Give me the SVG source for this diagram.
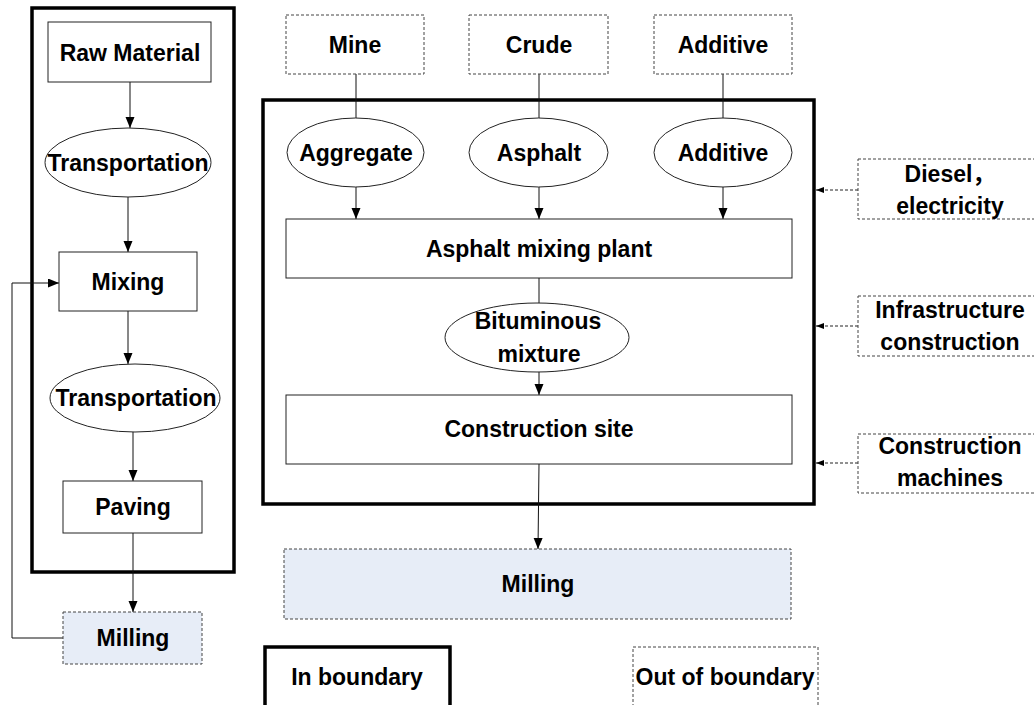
<svg xmlns="http://www.w3.org/2000/svg" width="1034" height="705" viewBox="0 0 1034 705">
<defs>
<style>
text{font-family:"Liberation Sans","Noto Sans CJK SC",Arial,sans-serif;font-weight:bold;font-size:23px;fill:#000;text-anchor:middle}
.box{fill:#fff;stroke:#222;stroke-width:1}
.ell{fill:#fff;stroke:#222;stroke-width:1}
.out{fill:#fff;stroke:#444;stroke-width:1;stroke-dasharray:3 2}
.mill{fill:#e7edf7;stroke:#444;stroke-width:1;stroke-dasharray:3 2}
.bound{fill:none;stroke:#000;stroke-width:3.5}
.ln{fill:none;stroke:#111;stroke-width:1}
.dln{fill:none;stroke:#222;stroke-width:1;stroke-dasharray:3 2}
</style>
<marker id="ah" markerUnits="userSpaceOnUse" markerWidth="12" markerHeight="10" refX="11" refY="4.5" orient="auto">
<path d="M0,0 L11,4.5 L0,9 z" fill="#000"/>
</marker>
<marker id="ahs" markerUnits="userSpaceOnUse" markerWidth="9" markerHeight="7" refX="8" refY="3" orient="auto">
<path d="M0,0 L8,3 L0,6 z" fill="#000"/>
</marker>
</defs>

<g id="boundaries">
<rect id="left-boundary" class="bound" x="32" y="8" width="202" height="564"/>
<rect id="main-boundary" class="bound" x="263" y="100" width="551" height="404"/>
</g>

<g id="connectors">
<line class="ln" x1="130" y1="82" x2="130" y2="128" marker-end="url(#ah)"/>
<line class="ln" x1="128" y1="197" x2="128" y2="252" marker-end="url(#ah)"/>
<line class="ln" x1="128" y1="311" x2="128" y2="364" marker-end="url(#ah)"/>
<line class="ln" x1="133" y1="432" x2="133" y2="481" marker-end="url(#ah)"/>
<line class="ln" x1="133" y1="533" x2="133" y2="612" marker-end="url(#ah)"/>
<polyline class="ln" points="63,638 12,638 12,283 59,283" marker-end="url(#ah)"/>
<line class="ln" x1="356" y1="74" x2="356" y2="118"/>
<line class="ln" x1="539" y1="74" x2="539" y2="118"/>
<line class="ln" x1="723" y1="74" x2="723" y2="118"/>
<line class="ln" x1="356" y1="187" x2="356" y2="219" marker-end="url(#ah)"/>
<line class="ln" x1="539" y1="187" x2="539" y2="219" marker-end="url(#ah)"/>
<line class="ln" x1="723" y1="187" x2="723" y2="219" marker-end="url(#ah)"/>
<line class="ln" x1="539" y1="278" x2="539" y2="303"/>
<line class="ln" x1="539" y1="372" x2="539" y2="395" marker-end="url(#ah)"/>
<line class="ln" x1="539" y1="464" x2="538" y2="549" marker-end="url(#ah)"/>
<line class="dln" x1="858" y1="190" x2="816" y2="190" marker-end="url(#ahs)"/>
<line class="dln" x1="858" y1="326" x2="816" y2="326" marker-end="url(#ahs)"/>
<line class="dln" x1="858" y1="463" x2="816" y2="463" marker-end="url(#ahs)"/>
</g>

<g id="raw-material"><rect class="box" x="48" y="22" width="163" height="60"/><text x="130" y="61">Raw Material</text></g>
<g id="transportation-1"><ellipse class="ell" cx="128" cy="162.5" rx="83" ry="34.5"/><text x="128" y="171">Transportation</text></g>
<g id="mixing"><rect class="box" x="59" y="252" width="138" height="59"/><text x="128" y="290">Mixing</text></g>
<g id="transportation-2"><ellipse class="ell" cx="135" cy="398" rx="85" ry="34"/><text x="136" y="406">Transportation</text></g>
<g id="paving"><rect class="box" x="63" y="481" width="139" height="52"/><text x="133" y="515">Paving</text></g>
<g id="milling-left"><rect class="mill" x="63" y="612" width="139" height="52"/><text x="133" y="646">Milling</text></g>

<g id="mine"><rect class="out" x="286" y="15" width="138" height="59"/><text x="355" y="53">Mine</text></g>
<g id="crude"><rect class="out" x="469" y="15" width="139" height="59"/><text x="539" y="53">Crude</text></g>
<g id="additive-source"><rect class="out" x="654" y="15" width="138" height="59"/><text x="723" y="53">Additive</text></g>

<g id="aggregate"><ellipse class="ell" cx="355.5" cy="152.5" rx="68.5" ry="34.5"/><text x="356" y="161">Aggregate</text></g>
<g id="asphalt"><ellipse class="ell" cx="538.5" cy="152.5" rx="69.5" ry="34.5"/><text x="539" y="161">Asphalt</text></g>
<g id="additive"><ellipse class="ell" cx="723" cy="152.5" rx="69" ry="34.5"/><text x="723" y="161">Additive</text></g>

<g id="asphalt-mixing-plant"><rect class="box" x="286" y="219" width="506" height="59"/><text x="539" y="257">Asphalt mixing plant</text></g>
<g id="bituminous-mixture"><ellipse class="ell" cx="537" cy="337.5" rx="92" ry="34.5"/><text x="538" y="329">Bituminous</text><text x="539" y="362">mixture</text></g>
<g id="construction-site"><rect class="box" x="286" y="395" width="506" height="69"/><text x="539" y="437">Construction site</text></g>
<g id="milling-main"><rect class="mill" x="284" y="549" width="507" height="70"/><text x="538" y="592">Milling</text></g>

<g id="diesel-electricity"><rect class="out" x="858" y="159" width="186" height="60"/><text x="950" y="182">Diesel，</text><text x="950" y="214">electricity</text></g>
<g id="infrastructure-construction"><rect class="out" x="858" y="296" width="186" height="60"/><text x="950" y="318">Infrastructure</text><text x="950" y="350">construction</text></g>
<g id="construction-machines"><rect class="out" x="858" y="434" width="186" height="59"/><text x="950" y="454">Construction</text><text x="950" y="486">machines</text></g>

<g id="legend-in"><rect x="265" y="647" width="185" height="80" fill="#fff" stroke="#000" stroke-width="3.5"/><text x="357" y="685">In boundary</text></g>
<g id="legend-out"><rect class="out" x="633" y="647" width="185" height="80"/><text x="725" y="685">Out of boundary</text></g>
</svg>
